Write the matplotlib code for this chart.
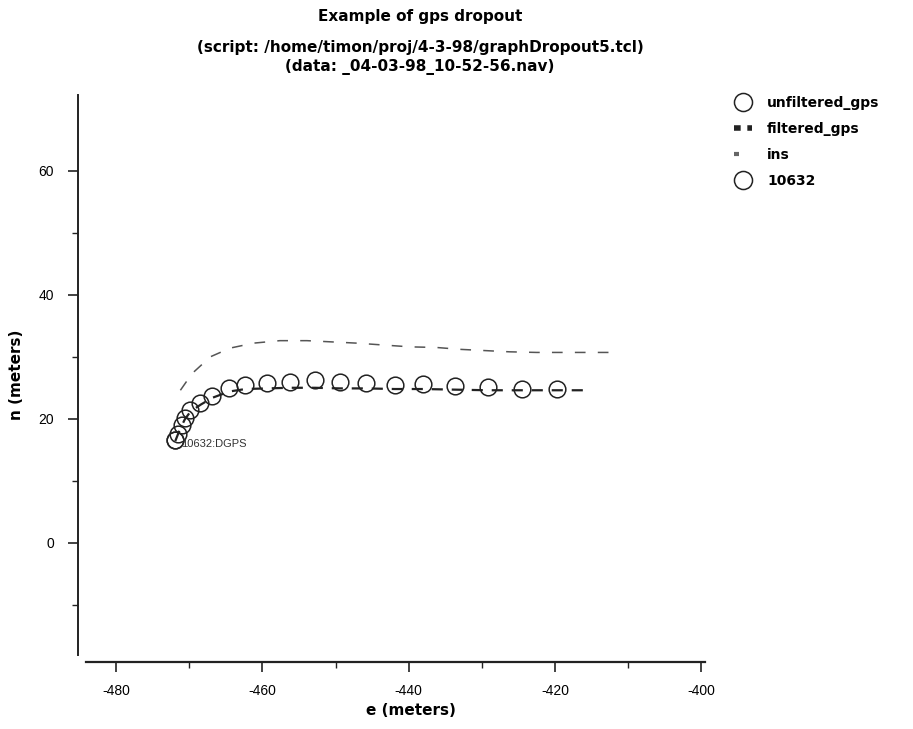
import matplotlib.pyplot as plt
from matplotlib.lines import Line2D

plt.rcParams["font.family"] = ["Liberation Sans", "DejaVu Sans"]

# unfiltered gps fixes (circles)
gps_e = [-471.9, -471.5, -471.0, -470.6, -469.9, -468.5, -466.9, -464.6, -462.4, -459.4,
         -456.2, -452.8, -449.4, -445.8, -441.9, -438.0, -433.7, -429.2, -424.5, -419.7]
gps_n = [16.6, 17.6, 19.0, 20.1, 21.4, 22.5, 23.6, 24.9, 25.4, 25.8,
         25.9, 26.2, 25.9, 25.8, 25.4, 25.6, 25.3, 25.1, 24.8, 24.8]

# filtered gps track
filt_e = [-471.9, -471.3, -470.6, -469.8, -468.4, -466.8, -464.5, -462.3, -459.4, -456.2,
          -452.8, -449.4, -445.8, -441.9, -438.0, -433.7, -429.2, -424.5, -419.7, -415.2]
filt_n = [16.4, 18.2, 19.9, 21.2, 22.3, 23.4, 24.4, 24.8, 24.9, 25.0,
          25.0, 24.9, 24.9, 24.8, 24.8, 24.7, 24.6, 24.6, 24.6, 24.6]

# ins track
ins_e = [-471.2, -469.6, -467.1, -464.4, -461.2, -457.6, -453.9, -450.5, -447.1, -443.5,
         -439.8, -436.2, -433.0, -429.6, -426.2, -422.5, -419.1, -415.5, -411.5]
ins_n = [24.6, 27.3, 30.0, 31.4, 32.2, 32.6, 32.6, 32.4, 32.2, 31.9,
         31.6, 31.5, 31.2, 31.0, 30.8, 30.7, 30.7, 30.7, 30.7]

start_label = "10632:DGPS"
x_major = [-480, -460, -440, -420, -400]
x_minor = [-470, -450, -430, -410]
y_major = [0, 20, 40, 60]
y_minor = [-10, 10, 30, 50]

fig = plt.figure(figsize=(9.13, 7.29), dpi=100)
ax = fig.add_axes([0.0942, 0.1015, 0.678, 0.768])

ax.plot(filt_e, filt_n, color="#222222", lw=1.6, dashes=(5, 4), zorder=2)
ax.plot(ins_e, ins_n, color="#555555", lw=1.1, dashes=(7, 8), zorder=2)
ax.plot(gps_e, gps_n, "o", ms=12, mfc="none", mec="#222222", mew=1.1, zorder=3)
ax.plot(gps_e[0], gps_n[0], "o", ms=12, mfc="none", mec="#222222", mew=1.1, zorder=3)
ax.annotate(start_label, (gps_e[0], gps_n[0]), xytext=(4, -3), textcoords="offset points",
            fontsize=8, color="#333333", va="center", ha="left")

ax.set_xlim(-484.1, -399.5)
ax.set_ylim(-18.1, 72.2)

ax.set_xticks(x_major)
ax.set_xticks(x_minor, minor=True)
ax.set_yticks(y_major)
ax.set_yticks(y_minor, minor=True)
ax.set_xticklabels([str(v) for v in x_major], fontsize=6, fontweight="bold", family="DejaVu Sans")
ax.set_yticklabels([str(v) for v in y_major], fontsize=6, fontweight="bold", family="DejaVu Sans")
ax.tick_params(axis="both", which="major", length=7, width=1.2, color="#222222", pad=10)
ax.tick_params(axis="both", which="minor", length=4, width=1.0, color="#222222")
ax.tick_params(axis="x", which="major", pad=9)

for s in ["top", "right"]:
    ax.spines[s].set_visible(False)
ax.spines["left"].set_position(("outward", 6))
ax.spines["bottom"].set_position(("outward", 5))
ax.spines["left"].set_linewidth(1.4)
ax.spines["bottom"].set_linewidth(1.6)
ax.spines["left"].set_color("#222222")
ax.spines["bottom"].set_color("#222222")

fig.text(0.450, 0.026, "e (meters)", ha="center", va="center", fontsize=11, fontweight="bold",
         family="DejaVu Sans")
fig.text(0.018, 0.486, "n (meters)", ha="center", va="center", rotation=90, fontsize=11,
         fontweight="bold", family="DejaVu Sans")

title_kw = dict(ha="center", va="center", fontsize=11, fontweight="bold", family="DejaVu Sans")
fig.text(0.46, 0.978, "Example of gps dropout", **title_kw)
fig.text(0.46, 0.935, "(script: /home/timon/proj/4-3-98/graphDropout5.tcl)", **title_kw)
fig.text(0.46, 0.908, "(data: _04-03-98_10-52-56.nav)", **title_kw)

handles = [
    Line2D([], [], ls="none", marker="o", ms=13, mfc="none", mec="#222222", mew=1.1),
    Line2D([], [], color="#222222", lw=4, dashes=(1.2, 1.2)),
    Line2D([], [], color="#666666", lw=3, dashes=(1.2, 5)),
    Line2D([], [], ls="none", marker="o", ms=13, mfc="none", mec="#222222", mew=1.1),
]
labels = ["unfiltered_gps", "filtered_gps", "ins", "10632"]
fig.legend(handles, labels, loc="upper left", bbox_to_anchor=(0.79, 0.885),
           frameon=False, handlelength=1.3, handletextpad=1.1, labelspacing=0.85,
           prop={"size": 10, "weight": "bold", "family": "DejaVu Sans"})

fig.savefig("out.png", dpi=100)
